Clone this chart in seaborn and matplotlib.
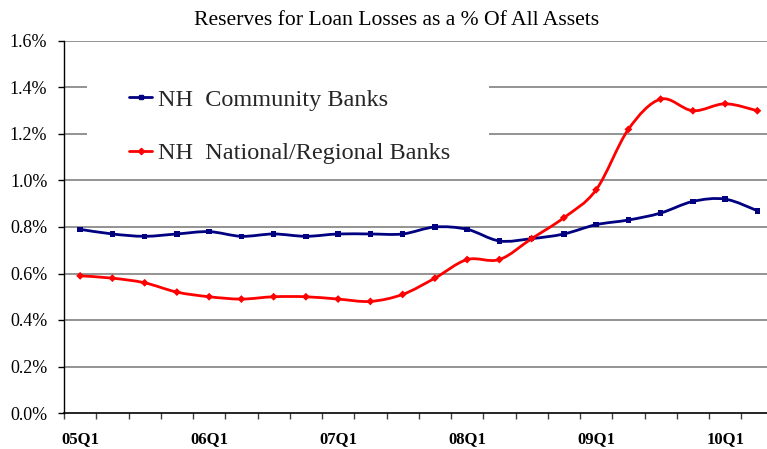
import numpy as np
import pandas as pd
import matplotlib
matplotlib.use("Agg")
import matplotlib.pyplot as plt
import seaborn as sns
from matplotlib.path import Path
from matplotlib.patches import PathPatch, Rectangle
from matplotlib.lines import Line2D
from matplotlib.ticker import FixedLocator, FuncFormatter

# Quarterly reserves for loan losses, % of all assets
quarters = ["05Q1", "05Q2", "05Q3", "05Q4", "06Q1", "06Q2", "06Q3", "06Q4",
            "07Q1", "07Q2", "07Q3", "07Q4", "08Q1", "08Q2", "08Q3", "08Q4",
            "09Q1", "09Q2", "09Q3", "09Q4", "10Q1", "10Q2"]
community = [0.79, 0.77, 0.76, 0.77, 0.78, 0.76, 0.77, 0.76, 0.77, 0.77, 0.77,
             0.80, 0.79, 0.74, 0.75, 0.77, 0.81, 0.83, 0.86, 0.91, 0.92, 0.87]
national = [0.59, 0.58, 0.56, 0.52, 0.50, 0.49, 0.50, 0.50, 0.49, 0.48, 0.51,
            0.58, 0.66, 0.66, 0.75, 0.84, 0.96, 1.22, 1.35, 1.30, 1.33, 1.30]
series_names = ["NH  Community Banks", "NH  National/Regional Banks"]
label_quarters = ["05Q1", "06Q1", "07Q1", "08Q1", "09Q1", "10Q1"]
title = "Reserves for Loan Losses as a % Of All Assets"

NAVY = "#000080"
RED = "#FF0000"
GRID = "#808080"

sns.set_theme(style="white")
plt.rcParams["font.family"] = ["Liberation Serif", "DejaVu Serif"]

df = pd.DataFrame({
    "pos": list(range(len(quarters))) * 2,
    "quarter": quarters * 2,
    "value": community + national,
    "series": [series_names[0]] * len(quarters) + [series_names[1]] * len(quarters),
})

W, H = 767, 449
fig = plt.figure(figsize=(W / 100, H / 100), dpi=100)
ax = fig.add_axes([64 / W, 1 - 413 / H, 709.5 / W, 372 / H])


def smooth_path(xs, ys):
    """Cubic Bezier path through every point (Catmull-Rom style tangents)."""
    pts = np.column_stack([xs, ys]).astype(float)
    ext = np.vstack([pts[0], pts, pts[-1]])
    verts = [pts[0]]
    codes = [Path.MOVETO]
    for i in range(len(pts) - 1):
        p0, p1, p2, p3 = ext[i], ext[i + 1], ext[i + 2], ext[i + 3]
        c1 = p1 + (p2 - p0) / 6.0
        c2 = p2 - (p3 - p1) / 6.0
        verts += [c1, c2, p2]
        codes += [Path.CURVE4] * 3
    return Path(verts, codes)


colors = {series_names[0]: NAVY, series_names[1]: RED}
markers = {series_names[0]: "s", series_names[1]: "D"}

for name in series_names:
    sub = df[df["series"] == name]
    patch = PathPatch(smooth_path(sub["pos"], sub["value"]), facecolor="none",
                      edgecolor=colors[name], lw=2.0, zorder=3,
                      capstyle="round", joinstyle="round")
    ax.add_patch(patch)

sns.scatterplot(data=df, x="pos", y="value", hue="series", style="series",
                palette=colors, markers=markers, s=16, linewidth=0,
                ax=ax, zorder=4, legend=False)

ax.set_xlim(-0.5, len(quarters) - 0.5)
ax.set_ylim(0, 1.6)

# horizontal gridlines
for v in np.arange(0.2, 1.61, 0.2):
    ax.axhline(v, color=GRID, lw=1.2, zorder=1)

# white panel behind the legend
ax.add_patch(Rectangle(((87 - 64) / 709.5, (413 - 172) / 372),
                       (489 - 87) / 709.5, (172 - 62) / 372,
                       transform=ax.transAxes, facecolor="white",
                       edgecolor="none", zorder=2))

handles = [Line2D([], [], color=NAVY, lw=2.0, marker="s", markersize=3.5),
           Line2D([], [], color=RED, lw=2.0, marker="D", markersize=3.2)]
ax.legend(handles, series_names, loc="center left",
          bbox_to_anchor=((129 - 64) / 709.5, (413 - 126.5) / 372),
          frameon=False, fontsize=17.5, handlelength=0.95, handletextpad=0.25,
          labelspacing=1.3, borderpad=0, borderaxespad=0)

# axes styling
for side in ["top", "right"]:
    ax.spines[side].set_visible(False)
ax.spines["left"].set_color("black")
ax.spines["left"].set_linewidth(1.0)
ax.spines["bottom"].set_color("black")
ax.spines["bottom"].set_linewidth(1.2)

ax.yaxis.set_major_locator(FixedLocator(np.arange(0, 1.61, 0.2)))
ax.yaxis.set_major_formatter(FuncFormatter(lambda v, p: f"{v:.1f}%"))
ax.tick_params(axis="y", which="major", left=True, direction="out", length=4.5,
               width=1.0, color="black", pad=7.5, labelsize=13, labelcolor="black")

label_pos = [quarters.index(q) for q in label_quarters]
ax.xaxis.set_major_locator(FixedLocator(label_pos))
ax.set_xticklabels(label_quarters, fontweight="bold")
ax.xaxis.set_minor_locator(FixedLocator(np.arange(-0.5, len(quarters), 1.0)))
ax.tick_params(axis="x", which="major", bottom=True, length=0, pad=13,
               labelsize=12, labelcolor="black")
ax.tick_params(axis="x", which="minor", bottom=True, direction="out", length=4,
               width=1.0, color="#404040")

ax.set_xlabel("")
ax.set_ylabel("")

fig.text(397 / W, 1 - 25 / H, title, ha="center", va="baseline", fontsize=15.6,
         color="black")

fig.savefig("out.png", dpi=100)
